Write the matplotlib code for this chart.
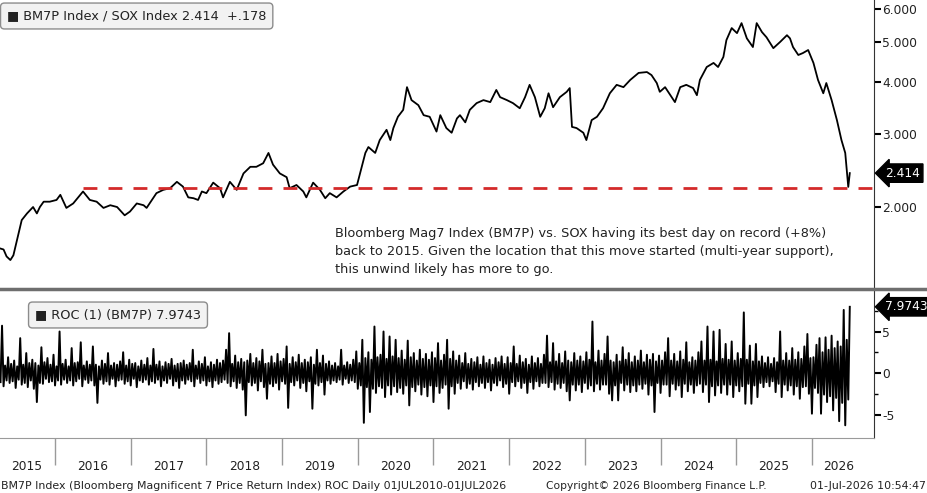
import numpy as np
import matplotlib
matplotlib.use('Agg')
import matplotlib.pyplot as plt
from matplotlib.lines import Line2D
from matplotlib.ticker import FixedLocator, FixedFormatter, NullFormatter
from matplotlib.transforms import blended_transform_factory

# BM7P / SOX ratio (decimal years)
ratio_years = [
    2015.27, 2015.32, 2015.36, 2015.41, 2015.45, 2015.52, 2015.56, 2015.63, 2015.71, 2015.76,
    2015.80, 2015.85, 2015.93, 2016.02, 2016.07, 2016.15, 2016.24, 2016.37, 2016.46, 2016.55,
    2016.64, 2016.73, 2016.82, 2016.92, 2016.99, 2017.08, 2017.17, 2017.21, 2017.28, 2017.34,
    2017.43, 2017.52, 2017.61, 2017.69, 2017.76, 2017.83, 2017.89, 2017.94, 2018.00, 2018.09,
    2018.18, 2018.22, 2018.31, 2018.40, 2018.49, 2018.58, 2018.66, 2018.75, 2018.82, 2018.88,
    2018.97, 2019.06, 2019.10, 2019.19, 2019.28, 2019.32, 2019.41, 2019.50, 2019.57, 2019.63,
    2019.72, 2019.81, 2019.90, 2019.99, 2020.03, 2020.10, 2020.14, 2020.23, 2020.29, 2020.38,
    2020.43, 2020.47, 2020.53, 2020.60, 2020.65, 2020.71, 2020.80, 2020.87, 2020.95, 2021.04,
    2021.09, 2021.17, 2021.24, 2021.31, 2021.35,
    2021.42, 2021.48, 2021.57, 2021.66, 2021.75, 2021.83, 2021.88, 2021.97, 2022.05, 2022.14,
    2022.21, 2022.27, 2022.34, 2022.41, 2022.47, 2022.52, 2022.58, 2022.67, 2022.76, 2022.80,
    2022.83, 2022.89, 2022.98, 2023.02, 2023.09, 2023.16, 2023.24, 2023.33, 2023.42, 2023.51,
    2023.60, 2023.71, 2023.82, 2023.88, 2023.95, 2023.99, 2024.06, 2024.13, 2024.19, 2024.26,
    2024.34, 2024.43, 2024.48, 2024.52, 2024.61, 2024.70, 2024.76, 2024.83, 2024.87, 2024.94,
    2025.01, 2025.07, 2025.14, 2025.22, 2025.27, 2025.34, 2025.40, 2025.49, 2025.58, 2025.67,
    2025.71, 2025.75, 2025.82, 2025.88, 2025.95, 2026.02, 2026.08, 2026.15, 2026.19, 2026.26,
    2026.33, 2026.39, 2026.44, 2026.48, 2026.50,
]
ratio_values = [
    1.59, 1.58, 1.52, 1.49, 1.53, 1.73, 1.86, 1.93, 2.00, 1.93,
    2.00, 2.06, 2.06, 2.08, 2.14, 1.99, 2.04, 2.18, 2.08, 2.06,
    1.99, 2.02, 2.00, 1.91, 1.95, 2.04, 2.02, 1.99, 2.08, 2.16,
    2.20, 2.22, 2.30, 2.24, 2.11, 2.10, 2.08, 2.18, 2.16, 2.29,
    2.22, 2.11, 2.30, 2.20, 2.41, 2.50, 2.50, 2.55, 2.70, 2.53,
    2.41, 2.36, 2.22, 2.26, 2.18, 2.11, 2.29, 2.20, 2.10, 2.16,
    2.11, 2.18, 2.24, 2.26, 2.41, 2.70, 2.79, 2.70, 2.90, 3.07,
    2.90, 3.10, 3.30, 3.43, 3.89, 3.62, 3.52, 3.33, 3.30, 3.04,
    3.33, 3.10, 3.02, 3.27, 3.33,
    3.20, 3.43, 3.56, 3.62, 3.58, 3.83, 3.68, 3.62, 3.56, 3.46,
    3.68, 3.94, 3.68, 3.30, 3.46, 3.76, 3.48, 3.68, 3.79, 3.87,
    3.12, 3.10, 3.02, 2.90, 3.24, 3.30, 3.46, 3.76, 3.94, 3.89,
    4.05, 4.21, 4.23, 4.16, 3.98, 3.79, 3.89, 3.72, 3.58, 3.89,
    3.94, 3.87, 3.72, 4.05, 4.35, 4.45, 4.35, 4.60, 5.05, 5.40,
    5.25, 5.55, 5.10, 4.86, 5.55, 5.28, 5.13, 4.83, 5.00, 5.19,
    5.10, 4.86, 4.65, 4.70, 4.78, 4.45, 4.05, 3.76, 3.98, 3.62,
    3.24, 2.90, 2.70, 2.236, 2.414,
]
support_level = 2.22
support_start = 2016.37

# ROC(1) of BM7P: one down-swing and one up-swing per 0.04-yr bucket
roc_start = 2015.28
roc_step = 0.04
roc_down = [
    -1.1, -1.6, -0.9, -1.2, -1.0, -1.8, -0.8, -1.4, -1.2, -1.7,
    -0.9, -1.9, -3.5, -1.2, -1.3, -0.7, -1.1, -1.0, -1.5, -0.9,
    -1.4, -0.8, -1.2, -0.9, -1.5, -1.0, -0.7, -1.6, -0.8, -1.2,
    -0.9, -1.5, -3.6, -0.8, -1.3, -1.0, -1.4, -0.7, -1.6, -0.9,
    -0.8, -1.3, -1.0, -1.5, -0.7, -1.7, -0.9, -1.1, -0.8, -1.4,
    -1.0, -1.2, -0.8, -1.6, -0.9, -1.2, -0.7, -1.5, -1.0, -1.8,
    -0.9, -1.3, -0.8, -1.0, -1.6, -0.7, -1.2, -0.9, -1.5, -1.0,
    -1.7, -0.9, -1.3, -1.1, -0.8, -1.2, -1.6, -1.0, -1.8, -1.2,
    -2.0, -5.1, -1.1, -1.5, -1.2, -2.1, -1.0, -1.7, -3.1, -1.3,
    -1.6, -1.2, -2.0, -1.0, -1.3, -4.2, -1.1, -1.5, -0.9, -1.8,
    -1.2, -2.2, -1.0, -4.3, -1.3, -1.5, -1.1, -2.6, -0.9, -1.3,
    -0.9, -1.1, -0.8, -1.4, -0.7, -1.2, -0.9, -1.1, -1.9, -1.5,
    -6.0, -1.7, -4.7, -1.9, -2.4, -1.6, -1.8, -2.9, -1.5, -2.6,
    -1.6, -2.3, -1.8, -2.5, -1.5, -3.9, -1.7, -2.2, -1.4, -2.6,
    -1.7, -2.8, -1.5, -3.5, -1.6, -2.4, -1.8, -1.4, -4.3, -1.6,
    -2.5, -1.2, -1.9, -1.0, -1.8, -1.3, -2.0, -1.1, -1.6, -1.2,
    -1.8, -1.1, -2.1, -1.2, -1.5, -0.9, -1.7, -1.3, -2.5, -1.1,
    -1.6, -1.0, -1.8, -1.2, -2.4, -1.1, -1.9, -1.0, -1.6, -1.2,
    -1.2, -1.7, -1.1, -2.0, -1.3, -1.8, -1.2, -2.2, -3.3, -1.4,
    -2.1, -1.4, -2.3, -1.2, -1.9, -1.5, -2.2, -1.3, -2.0, -1.4,
    -1.4, -2.5, -3.3, -1.5, -3.3, -1.2, -2.1, -1.4, -2.3, -1.5,
    -2.2, -1.4, -1.9, -1.3, -2.6, -1.5, -4.7, -1.2, -2.4, -1.4,
    -1.4, -2.8, -1.3, -2.0, -1.5, -2.9, -1.3, -2.2, -1.4, -2.4,
    -1.5, -1.3, -2.3, -1.4, -3.5, -1.6, -2.7, -1.5, -2.4, -1.4,
    -2.6, -1.4, -2.9, -1.5, -2.2, -1.6, -3.7, -1.3, -3.7, -1.5,
    -2.9, -1.2, -1.7, -1.1, -1.6, -1.0, -2.3, -1.3, -2.9, -1.4,
    -2.1, -1.5, -2.6, -1.6, -3.1, -1.7, -1.6, -2.5, -4.9, -1.8,
    -2.4, -4.9, -2.6, -3.5, -2.8, -4.5, -3.0, -5.8, -3.6, -6.3,
    -3.2,
]
roc_up = [
    5.7, 0.9, 1.9, 1.1, 1.5, 0.8, 4.2, 1.0, 2.4, 1.2,
    1.6, 1.2, 0.9, 3.1, 1.3, 1.8, 1.0, 2.2, 0.8, 5.0,
    1.1, 1.6, 0.8, 3.0, 1.2, 1.3, 3.7, 0.9, 1.4, 1.0,
    3.2, 1.0, 0.8, 1.5, 1.1, 2.4, 0.9, 1.2, 1.0, 1.4,
    2.5, 0.9, 1.6, 1.1, 1.2, 0.8, 1.5, 1.0, 1.8, 0.9,
    2.9, 1.0, 1.4, 0.8, 1.3, 1.1, 1.7, 0.9, 1.1, 1.2,
    1.5, 1.0, 1.2, 2.8, 0.9, 1.4, 1.1, 1.9, 0.8, 1.3,
    1.0, 1.6, 1.2, 1.5, 2.8, 4.8, 1.1, 2.1, 1.3, 1.7,
    1.3, 1.5, 2.3, 1.2, 1.8, 1.4, 2.8, 1.1, 1.2, 2.0,
    1.2, 2.3, 1.4, 1.7, 3.2, 1.1, 1.9, 1.3, 2.2, 1.2,
    1.6, 1.3, 1.9, 1.0, 2.8, 1.2, 2.1, 1.1, 1.4, 0.9,
    1.2, 0.8, 2.8, 0.9, 1.3, 1.0, 1.6, 2.6, 1.2, 4.0,
    1.8, 2.5, 1.6, 5.6, 1.9, 2.2, 5.0, 1.7, 4.4, 2.0,
    4.0, 1.8, 2.7, 1.6, 3.9, 1.9, 2.4, 1.5, 2.8, 1.7,
    2.3, 1.6, 2.5, 1.8, 3.6, 1.5, 2.2, 4.0, 1.7, 2.6,
    1.5, 2.1, 1.2, 2.4, 1.1, 1.7, 1.3, 1.9, 1.0, 2.0,
    1.2, 1.6, 1.0, 1.8, 1.3, 2.0, 1.1, 1.9, 1.2, 3.2,
    1.1, 2.1, 1.3, 1.7, 1.0, 2.0, 1.2, 1.8, 1.1, 2.2,
    4.5, 1.3, 3.6, 1.4, 2.3, 1.2, 2.6, 1.5, 1.3, 2.4,
    1.5, 2.0, 1.4, 2.5, 1.6, 6.2, 1.3, 2.7, 1.5, 2.3,
    4.4, 1.5, 1.3, 2.2, 1.4, 3.1, 1.6, 2.4, 1.3, 2.0,
    1.5, 2.7, 1.3, 2.2, 1.6, 2.3, 1.4, 2.1, 1.5, 2.5,
    4.2, 1.5, 2.3, 1.4, 2.6, 1.6, 3.7, 1.3, 1.9, 1.5,
    2.5, 3.8, 1.5, 5.6, 1.6, 5.0, 1.4, 5.2, 1.7, 3.5,
    1.6, 3.8, 1.5, 2.4, 1.7, 7.3, 1.6, 3.3, 1.4, 3.5,
    1.4, 2.0, 1.2, 1.9, 1.1, 1.8, 1.3, 5.0, 1.5, 2.4,
    1.5, 3.0, 1.6, 2.5, 1.7, 3.2, 4.7, 1.8, 1.9, 3.4,
    4.2, 2.5, 4.3, 2.8, 4.5, 3.0, 3.8, 3.2, 7.6, 4.0,
    7.9743,
]

year_ticks = list(range(2016, 2027))
year_labels = ['2015', '2016', '2017', '2018', '2019', '2020', '2021',
               '2022', '2023', '2024', '2025', '2026']
year_label_pos = [2015.63] + [y + 0.5 for y in range(2016, 2026)] + [2026.35]

TXT = '#222222'
plt.rcParams['font.family'] = 'DejaVu Sans'

W, H = 927, 493
fig = plt.figure(figsize=(W / 100, H / 100), dpi=100)
fig.patch.set_facecolor('white')

x_left, x_right = 2015.273, 2026.82
ax_w = 874 / W

ax1 = fig.add_axes([0, 1 - 287 / H, ax_w, 287 / H])
ax2 = fig.add_axes([0, 1 - 438 / H, ax_w, 147 / H])

# ---- top panel ----
ax1.plot(ratio_years, ratio_values, color='black', lw=1.3)
ax1.plot([support_start, x_right], [support_level, support_level],
         color='#d42a2a', lw=2, dashes=(5, 4))
ax1.set_yscale('log')
ax1.set_ylim(1.283, 6.31)
ax1.set_xlim(x_left, x_right)
ax1.yaxis.tick_right()
ax1.yaxis.set_major_locator(FixedLocator([2, 3, 4, 5, 6]))
ax1.yaxis.set_major_formatter(FixedFormatter(['2.000', '3.000', '4.000', '5.000', '6.000']))
ax1.yaxis.set_minor_locator(FixedLocator([]))
ax1.yaxis.set_minor_formatter(NullFormatter())
ax1.tick_params(axis='y', direction='out', length=5, width=1.5, pad=1,
                labelsize=8.8, labelcolor=TXT, color='black')
ax1.set_xticks([])
for s in ['top', 'left', 'bottom']:
    ax1.spines[s].set_visible(False)
ax1.spines['right'].set_color('#333333')

tr1 = blended_transform_factory(ax1.transAxes, ax1.transData)
ax1.text(1.013, ratio_values[-1], f'{ratio_values[-1]:.3f}', transform=tr1,
         ha='left', va='center', color='white', fontsize=8.8,
         bbox=dict(boxstyle='larrow,pad=0.22', fc='black', ec='black'))

ax1.text(0.008, 1 - 16 / 287, '\u25a0 BM7P Index / SOX Index 2.414  +.178',
         transform=ax1.transAxes, ha='left', va='center', fontsize=9.3, color=TXT,
         bbox=dict(boxstyle='round,pad=0.5,rounding_size=0.3', fc='#f2f2f2', ec='#8c8c8c', lw=1))

ax1.text(335 / 874, 1 - 227 / 287,
         'Bloomberg Mag7 Index (BM7P) vs. SOX having its best day on record (+8%)\n'
         'back to 2015. Given the location that this move started (multi-year support),\n'
         'this unwind likely has more to go.',
         transform=ax1.transAxes, ha='left', va='top', fontsize=9.3, color=TXT,
         linespacing=1.5)

# ---- bottom panel ----
n = len(roc_up)
roc_x = np.empty(2 * n)
roc_x[0::2] = roc_start + roc_step * np.arange(n)
roc_x[1::2] = roc_start + roc_step * np.arange(n) + roc_step / 2
roc_y = np.empty(2 * n)
roc_y[0::2] = roc_down
roc_y[1::2] = roc_up
ax2.plot(roc_x, roc_y, color='black', lw=1.4)
ax2.set_xlim(x_left, x_right)
ax2.set_ylim(-7.83, 9.88)
ax2.yaxis.tick_right()
ax2.set_yticks([-5, 0, 5])
ax2.set_yticklabels(['-5', '0', '5'])
ax2.yaxis.set_minor_locator(FixedLocator([-2.5, 2.5, 7.5]))
ax2.tick_params(axis='y', which='major', direction='out', length=5, width=1.5, pad=1,
                labelsize=8.8, labelcolor=TXT, color='black')
ax2.tick_params(axis='y', which='minor', direction='out', length=3, width=1, color='black')
ax2.xaxis.set_major_locator(FixedLocator(year_ticks))
ax2.xaxis.set_major_formatter(NullFormatter())
ax2.xaxis.set_minor_locator(FixedLocator(year_label_pos))
ax2.xaxis.set_minor_formatter(FixedFormatter(year_labels))
ax2.tick_params(axis='x', which='major', direction='out', length=19.5, width=1, color='#9a9a9a')
ax2.tick_params(axis='x', which='minor', length=0, pad=16, labelsize=8.8, labelcolor=TXT)
for s in ['top', 'left']:
    ax2.spines[s].set_visible(False)
ax2.spines['right'].set_color('#333333')
ax2.spines['bottom'].set_color('#9a9a9a')

tr2 = blended_transform_factory(ax2.transAxes, ax2.transData)
ax2.text(1.013, roc_up[-1], f'{roc_up[-1]:.4f}', transform=tr2,
         ha='left', va='center', color='white', fontsize=8.8,
         bbox=dict(boxstyle='larrow,pad=0.22', fc='black', ec='black'))

ax2.text(35 / 874, 1 - 24 / 147, '\u25a0 ROC (1) (BM7P) 7.9743',
         transform=ax2.transAxes, ha='left', va='center', fontsize=9.3, color=TXT,
         bbox=dict(boxstyle='round,pad=0.5,rounding_size=0.3', fc='#f2f2f2', ec='#8c8c8c', lw=1))

# separator between panels
fig.add_artist(Line2D([0, 1], [1 - 289 / H, 1 - 289 / H], color='#6e6e6e', lw=2.5,
                      transform=fig.transFigure))

# footer
fy = 1 - 486 / H
fig.text(0.001, fy, 'BM7P Index (Bloomberg Magnificent 7 Price Return Index) ROC Daily 01JUL2010-01JUL2026',
         ha='left', va='center', fontsize=7.9, color=TXT)
fig.text(546 / W, fy, 'Copyright\u00a9 2026 Bloomberg Finance L.P.',
         ha='left', va='center', fontsize=7.7, color=TXT)
fig.text(0.999, fy, '01-Jul-2026 10:54:47', ha='right', va='center', fontsize=7.9, color=TXT)

fig.savefig('out.png', dpi=100, facecolor='white')
